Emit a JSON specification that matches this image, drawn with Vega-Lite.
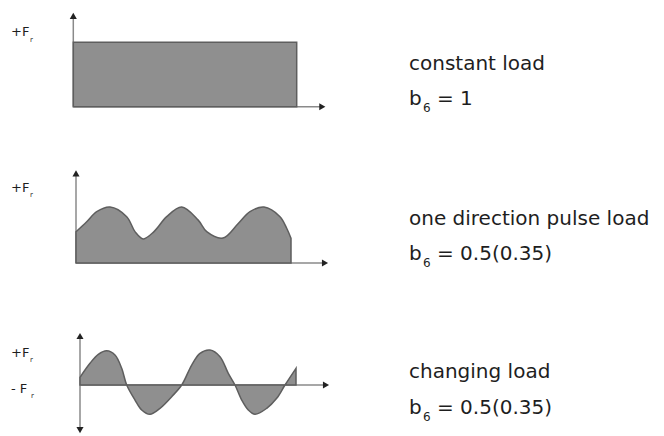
{
  "$schema": "https://vega.github.io/schema/vega-lite/v6.json",
  "padding": 0,
  "spacing": 0,
  "background": "white",
  "config": {"view": {"stroke": null}, "text": {"font": "DejaVu Sans", "color": "#1e1e1e", "align": "left", "baseline": "alphabetic"}},
  "vconcat": [
    {
      "width": 664, "height": 145,
      "encoding": {
        "x": {"field": "t", "type": "quantitative", "scale": {"domain": [-7.33, 59.07], "nice": false, "zero": false}, "axis": null},
        "y": {"field": "v", "type": "quantitative", "scale": {"domain": [-0.595, 1.657], "nice": false, "zero": false}, "axis": null}
      },
      "layer": [
        {"data": {"values": [{"t": 0, "v": 0, "t2": 0, "v2": 1.4}, {"t": 0, "v": 0, "t2": 24.8, "v2": 0}]},
         "mark": {"type": "rule", "color": "#8a8a8a", "strokeWidth": 1.5},
         "encoding": {"x2": {"field": "t2"}, "y2": {"field": "v2"}}},
        {"data": {"values": [{"t": 0, "t2": 22.34, "v": 0, "v2": 1}]},
         "mark": {"type": "rect", "fill": "#8f8f8f", "stroke": "#5e5e5e", "strokeWidth": 1.5},
         "encoding": {"x2": {"field": "t2"}, "y2": {"field": "v2"}}},
        {"data": {"values": [{"t": 0, "v": 1.41}]},
         "mark": {"type": "point", "shape": "triangle-up", "filled": true, "color": "#222222", "size": 50, "opacity": 1}},
        {"data": {"values": [{"t": 24.9, "v": 0}]},
         "mark": {"type": "point", "shape": "triangle-right", "filled": true, "color": "#222222", "size": 50, "opacity": 1}},
        {"data": {"values": [{"t": -6.23, "v": 1.098, "label": "+F"}]},
         "mark": {"type": "text", "fontSize": 13}, "encoding": {"text": {"field": "label"}}},
        {"data": {"values": [{"t": -4.33, "v": 1.0, "label": "r"}]},
         "mark": {"type": "text", "fontSize": 7}, "encoding": {"text": {"field": "label"}}},
        {"data": {"values": [{"t": 33.57, "v": 0.57, "label": "constant load"}, {"t": 33.57, "v": 0.026, "label": "b"}, {"t": 36.37, "v": 0.026, "label": "= 1"}]},
         "mark": {"type": "text", "fontSize": 20}, "encoding": {"text": {"field": "label"}}},
        {"data": {"values": [{"t": 34.97, "v": -0.08, "label": "6"}]},
         "mark": {"type": "text", "fontSize": 12}, "encoding": {"text": {"field": "label"}}}
      ]
    },
    {
      "width": 664, "height": 145,
      "encoding": {
        "x": {"field": "t", "type": "quantitative", "scale": {"domain": [-7.6, 58.8], "nice": false, "zero": false}, "axis": null},
        "y": {"field": "v", "type": "quantitative", "scale": {"domain": [-0.482, 2.107], "nice": false, "zero": false}, "axis": null}
      },
      "layer": [
        {"data": {"values": [{"t": 0, "v": 0, "t2": 0, "v2": 1.6}, {"t": 0, "v": 0, "t2": 24.8, "v2": 0}]},
         "mark": {"type": "rule", "color": "#8a8a8a", "strokeWidth": 1.5},
         "encoding": {"x2": {"field": "t2"}, "y2": {"field": "v2"}}},
        {"data": {"values": [
          {"t": 0, "v": 0.559}, {"t": 1.07, "v": 0.738}, {"t": 2.07, "v": 0.916},
          {"t": 3.4, "v": 1.0}, {"t": 5.07, "v": 0.827}, {"t": 5.9, "v": 0.56},
          {"t": 6.73, "v": 0.43}, {"t": 7.8, "v": 0.56}, {"t": 9.07, "v": 0.827},
          {"t": 10.57, "v": 1.0}, {"t": 12.2, "v": 0.77}, {"t": 13.07, "v": 0.559},
          {"t": 14.7, "v": 0.446}, {"t": 16.2, "v": 0.7},
          {"t": 17.4, "v": 0.916}, {"t": 18.8, "v": 1.0},
          {"t": 20.4, "v": 0.827}, {"t": 21.07, "v": 0.62}, {"t": 21.5, "v": 0.441}
         ]},
         "mark": {"type": "area", "interpolate": "catmull-rom", "fill": "#8f8f8f", "fillOpacity": 1, "stroke": "#5e5e5e", "strokeWidth": 1.5},
         "encoding": {"y2": {"datum": 0}}},
        {"data": {"values": [{"t": 0, "v": 1.6}]},
         "mark": {"type": "point", "shape": "triangle-up", "filled": true, "color": "#222222", "size": 50, "opacity": 1}},
        {"data": {"values": [{"t": 24.9, "v": 0}]},
         "mark": {"type": "point", "shape": "triangle-right", "filled": true, "color": "#222222", "size": 50, "opacity": 1}},
        {"data": {"values": [{"t": -6.5, "v": 1.268, "label": "+F"}]},
         "mark": {"type": "text", "fontSize": 13}, "encoding": {"text": {"field": "label"}}},
        {"data": {"values": [{"t": -4.6, "v": 1.184, "label": "r"}]},
         "mark": {"type": "text", "fontSize": 7}, "encoding": {"text": {"field": "label"}}},
        {"data": {"values": [{"t": 33.3, "v": 0.679, "label": "one direction pulse load"}, {"t": 33.3, "v": 0.054, "label": "b"}, {"t": 36.1, "v": 0.054, "label": "= 0.5(0.35)"}]},
         "mark": {"type": "text", "fontSize": 20}, "encoding": {"text": {"field": "label"}}},
        {"data": {"values": [{"t": 34.7, "v": -0.071, "label": "6"}]},
         "mark": {"type": "text", "fontSize": 12}, "encoding": {"text": {"field": "label"}}}
      ]
    },
    {
      "width": 664, "height": 146,
      "encoding": {
        "x": {"field": "t", "type": "quantitative", "scale": {"domain": [-8.0, 58.4], "nice": false, "zero": false}, "axis": null},
        "y": {"field": "v", "type": "quantitative", "scale": {"domain": [-1.457, 2.714], "nice": false, "zero": false}, "axis": null}
      },
      "layer": [
        {"data": {"values": [{"t": 0, "v": -1.3, "t2": 0, "v2": 1.4}, {"t": 0, "v": 0, "t2": 24.5, "v2": 0}]},
         "mark": {"type": "rule", "color": "#8a8a8a", "strokeWidth": 1.5},
         "encoding": {"x2": {"field": "t2"}, "y2": {"field": "v2"}}},
        {"data": {"values": [
          {"t": 0, "v": 0.22}, {"t": 1.0, "v": 0.62}, {"t": 1.83, "v": 0.877}, {"t": 2.67, "v": 0.98},
          {"t": 3.5, "v": 0.857}, {"t": 4.17, "v": 0.476}, {"t": 4.67, "v": 0}, {"t": 5.5, "v": -0.429},
          {"t": 6.17, "v": -0.714}, {"t": 7.0, "v": -0.838}, {"t": 8.0, "v": -0.667}, {"t": 9.17, "v": -0.333},
          {"t": 10.17, "v": 0}, {"t": 11.17, "v": 0.571}, {"t": 12.0, "v": 0.905}, {"t": 13.0, "v": 1.0},
          {"t": 14.0, "v": 0.81}, {"t": 14.83, "v": 0.333}, {"t": 15.5, "v": 0}, {"t": 16.17, "v": -0.429},
          {"t": 16.83, "v": -0.714}, {"t": 17.5, "v": -0.838}, {"t": 18.67, "v": -0.667}, {"t": 19.67, "v": -0.381},
          {"t": 20.5, "v": 0}, {"t": 21.6, "v": 0.476}
         ]},
         "mark": {"type": "area", "interpolate": "catmull-rom", "fill": "#8f8f8f", "fillOpacity": 1, "stroke": "#5e5e5e", "strokeWidth": 1.5},
         "encoding": {"y2": {"datum": 0}}},
        {"data": {"values": [{"t": 0, "v": 1.4}]},
         "mark": {"type": "point", "shape": "triangle-up", "filled": true, "color": "#222222", "size": 50, "opacity": 1}},
        {"data": {"values": [{"t": 0, "v": -1.29}]},
         "mark": {"type": "point", "shape": "triangle-down", "filled": true, "color": "#222222", "size": 50, "opacity": 1}},
        {"data": {"values": [{"t": 24.6, "v": 0}]},
         "mark": {"type": "point", "shape": "triangle-right", "filled": true, "color": "#222222", "size": 50, "opacity": 1}},
        {"data": {"values": [{"t": -6.9, "v": 0.8, "label": "+F"}, {"t": -6.9, "v": -0.229, "label": "- F"}]},
         "mark": {"type": "text", "fontSize": 13}, "encoding": {"text": {"field": "label"}}},
        {"data": {"values": [{"t": -5.0, "v": 0.657, "label": "r"}, {"t": -4.9, "v": -0.371, "label": "r"}]},
         "mark": {"type": "text", "fontSize": 7}, "encoding": {"text": {"field": "label"}}},
        {"data": {"values": [{"t": 32.9, "v": 0.2, "label": "changing load"}, {"t": 32.9, "v": -0.829, "label": "b"}, {"t": 35.7, "v": -0.829, "label": "= 0.5(0.35)"}]},
         "mark": {"type": "text", "fontSize": 20}, "encoding": {"text": {"field": "label"}}},
        {"data": {"values": [{"t": 34.3, "v": -1.02, "label": "6"}]},
         "mark": {"type": "text", "fontSize": 12}, "encoding": {"text": {"field": "label"}}}
      ]
    }
  ]
}
